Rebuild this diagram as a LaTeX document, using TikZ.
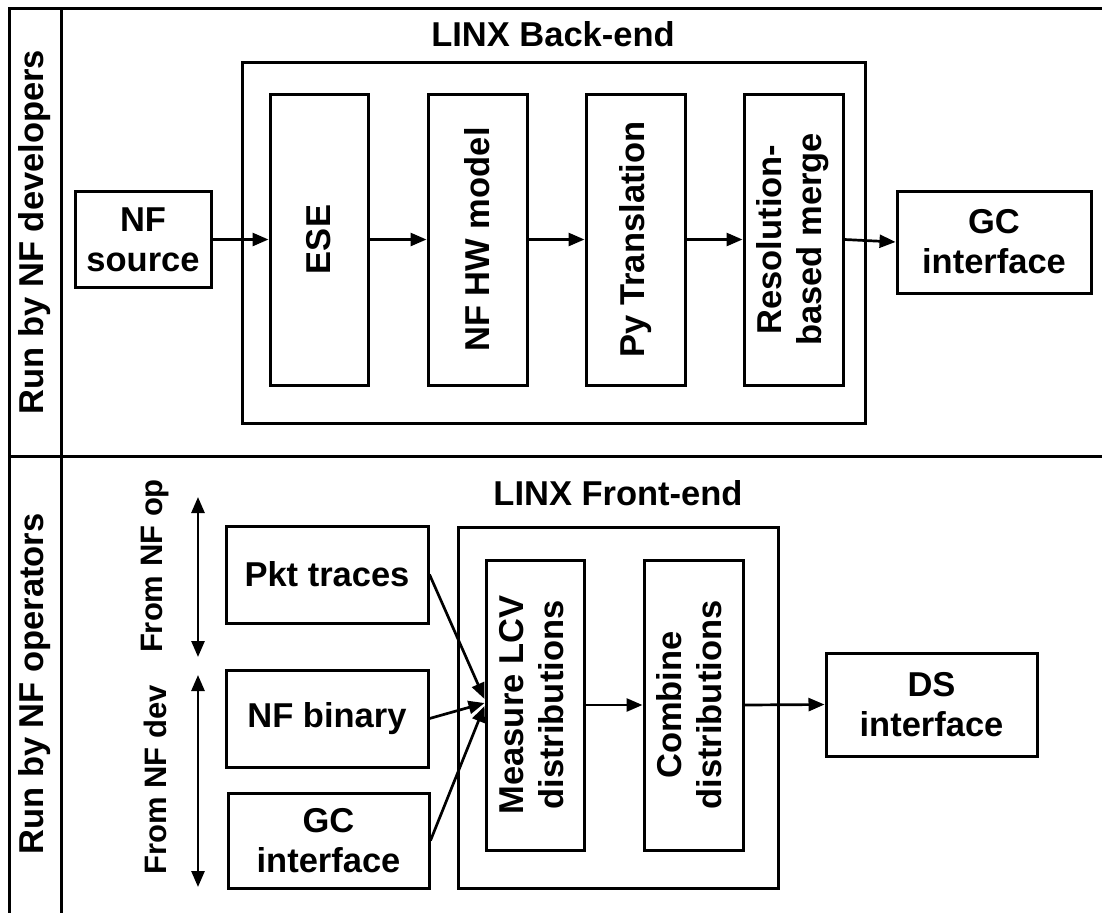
\documentclass[tikz,border=0pt]{standalone}
\usepackage{fontspec}
\setmainfont{Liberation Sans}
\usetikzlibrary{arrows.meta}
\begin{document}
\begin{tikzpicture}[x=1pt,y=-1pt,line width=3pt,
  every node/.style={font=\fontsize{34.5}{40}\selectfont\bfseries,align=center,inner sep=0pt},
  box/.style={draw,rectangle,line width=3pt},
  side/.style={rotate=90,font=\fontsize{31}{36}\selectfont\bfseries},
  arr/.style={-{Triangle[length=16pt,width=13pt]},line width=2.7pt},
  darr/.style={{Triangle[length=16pt,width=13pt]}-{Triangle[length=16pt,width=13pt]},line width=2.7pt}]
\useasboundingbox (0,0) rectangle (1102,913);
% frame
\draw[line join=miter] (1102,8) -- (9,8) -- (9,913);
\draw (61,8) -- (61,913);
\draw (9,456) -- (1102,456);
% side labels
\node[rotate=90] (devlab) at (35,232) {Run by NF developers};
\node[rotate=90] (oplab) at (35,684) {Run by NF operators};
% back-end
\node[anchor=base] (betitle) at (553,46) {LINX Back-end};
\node[box,minimum width=623pt,minimum height=361pt] (be) at (553.5,242.5) {};
\node[box,minimum width=98pt,minimum height=291pt] (ese) at (319,239.5) {\rotatebox{90}{ESE}};
\node[box,minimum width=99pt,minimum height=291pt] (hw) at (477.5,239.5) {\rotatebox{90}{NF HW model}};
\node[box,minimum width=99pt,minimum height=291pt] (py) at (635.5,239.5) {\rotatebox{90}{Py Translation}};
\node[box,minimum width=99pt,minimum height=291pt] (res) at (793.5,239.5) {\rotatebox{90}{\begin{tabular}{@{}c@{}}Resolution-\\based merge\end{tabular}}};
\node[box,minimum width=136pt,minimum height=96pt] (src) at (143,239.5) {NF\\source};
\node[box,minimum width=194pt,minimum height=102pt] (gc) at (994,242) {GC\\interface};
\draw[arr] (src.east) -- (ese.west);
\draw[arr] (ese.east) -- (hw.west);
\draw[arr] (hw.east) -- (py.west);
\draw[arr] (py.east) -- (res.west);
\draw[arr] (res.east) -- (gc.west);
% front-end
\node[anchor=base] (fetitle) at (618,505) {LINX Front-end};
\node[box,minimum width=320pt,minimum height=361pt] (fe) at (618,707.5) {};
\node[box,minimum width=98pt,minimum height=290pt] (meas) at (535,705) {\rotatebox{90}{\begin{tabular}{@{}c@{}}Measure LCV\\distributions\end{tabular}}};
\node[box,minimum width=99pt,minimum height=290pt] (comb) at (693.5,705) {\rotatebox{90}{\begin{tabular}{@{}c@{}}Combine\\distributions\end{tabular}}};
\node[box,minimum width=211pt,minimum height=103pt] (ds) at (931.5,704.5) {DS\\interface};
\node[box,minimum width=202pt,minimum height=97pt] (pkt) at (327,574.5) {Pkt traces};
\node[box,minimum width=202pt,minimum height=97pt] (bin) at (327,718.5) {NF binary};
\node[box,minimum width=201pt,minimum height=95pt] (gc2) at (328.5,840.5) {GC\\interface};
\draw[arr] (pkt.east) -- ([yshift=6pt]meas.west);
\draw[arr] (bin.east) -- ([yshift=2pt]meas.west);
\draw[arr] (gc2.east) -- ([yshift=-1pt]meas.west);
\draw[arr] (meas.east) -- (comb.west);
\draw[arr] (comb.east) -- (ds.west);
% source ranges
\coordinate (a1) at (198,497);
\coordinate (a2) at (198,657);
\coordinate (a3) at (198,675);
\coordinate (a4) at (198,887);
\draw[darr] (a1) -- (a2);
\draw[darr] (a3) -- (a4);
\node[side] (fromop) at (155,566) {From NF op};
\node[side] (fromdev) at (155,780) {From NF dev};
\end{tikzpicture}
\end{document}
